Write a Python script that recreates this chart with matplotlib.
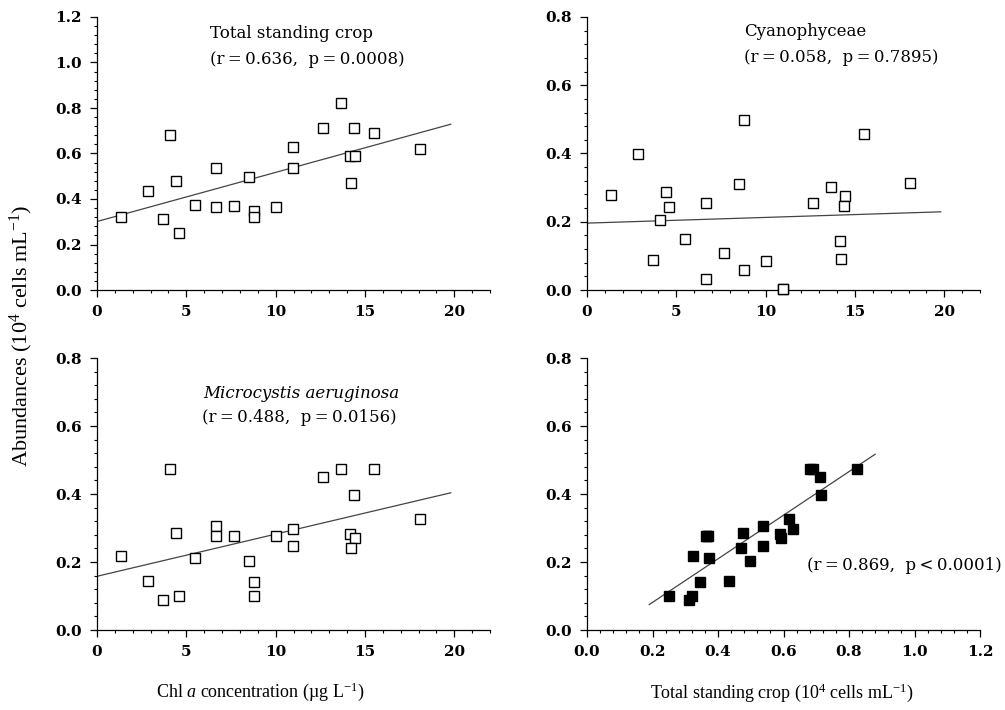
import matplotlib
matplotlib.use('Agg')
import matplotlib.pyplot as plt
import numpy as np
from matplotlib.ticker import MultipleLocator, FormatStrFormatter
from matplotlib.font_manager import FontProperties

plt.rcParams['mathtext.fontset'] = 'custom'
plt.rcParams['mathtext.rm'] = 'Liberation Serif'
plt.rcParams['mathtext.it'] = 'Liberation Serif:italic'

# chl a concentration of each sample (ug/L)
chl = [1.35, 2.85, 3.67, 4.08, 4.44, 4.61, 5.51, 6.67, 6.67, 7.68, 8.52, 8.80,
       8.80, 10.0, 10.96, 10.96, 12.66, 13.67, 14.19, 14.42, 14.23, 14.40, 15.52, 18.07]
# abundances (10^4 cells/mL)
total = [0.323, 0.433, 0.311, 0.682, 0.477, 0.249, 0.373, 0.538, 0.364, 0.370, 0.497, 0.346,
         0.321, 0.365, 0.629, 0.538, 0.711, 0.824, 0.590, 0.591, 0.469, 0.713, 0.689, 0.618]
cyano = [0.277, 0.399, 0.089, 0.206, 0.288, 0.244, 0.149, 0.033, 0.254, 0.108, 0.310, 0.060,
         0.497, 0.086, 0.004, 0.004, 0.256, 0.301, 0.145, 0.275, 0.091, 0.247, 0.456, 0.314]
micro = [0.218, 0.145, 0.087, 0.475, 0.286, 0.099, 0.212, 0.305, 0.276, 0.276, 0.204, 0.141,
         0.101, 0.276, 0.296, 0.248, 0.451, 0.475, 0.281, 0.272, 0.241, 0.397, 0.475, 0.327]

# regression lines as drawn (intercept, slope, x range)
fit_total = (0.301, 0.0216, 0, 19.8)
fit_cyano = (0.196, 0.00167, 0, 19.8)
fit_micro = (0.158, 0.0124, 0, 19.8)
fit_tm = (-0.047, 0.641, 0.19, 0.88)

tick_fp = FontProperties(family='DejaVu Serif', weight='bold', size=11)
note_font = dict(family='DejaVu Serif', size=12)
T = '\u2009'  # thin space

fig = plt.figure(figsize=(10.05, 7.10), dpi=100)
W, H = 1005.0, 710.0

def make_ax(l, t, r, b):
    return fig.add_axes([l / W, 1 - b / H, (r - l) / W, (b - t) / H])

def style(ax, xmax, xmaj, xmin, ymax, xfmt):
    ax.set_xlim(0, xmax)
    ax.set_ylim(0, ymax)
    ax.spines['top'].set_visible(False)
    ax.spines['right'].set_visible(False)
    for s in ['left', 'bottom']:
        ax.spines[s].set_linewidth(0.9)
    ax.xaxis.set_major_locator(MultipleLocator(xmaj))
    ax.xaxis.set_minor_locator(MultipleLocator(xmin))
    ax.yaxis.set_major_locator(MultipleLocator(0.2))
    ax.yaxis.set_minor_locator(MultipleLocator(0.04))
    ax.xaxis.set_major_formatter(FormatStrFormatter(xfmt))
    ax.yaxis.set_major_formatter(FormatStrFormatter('%.1f'))
    ax.tick_params(which='major', direction='out', length=5, width=0.9, pad=6)
    ax.tick_params(which='minor', direction='out', length=2.5, width=0.8)
    for lab in ax.get_xticklabels() + ax.get_yticklabels():
        lab.set_fontproperties(tick_fp)

def fit_line(ax, fit):
    b0, b1, x0, x1 = fit
    xs = np.array([x0, x1])
    ax.plot(xs, b0 + b1 * xs, color='#444444', lw=0.9, zorder=1)

ax1 = make_ax(97, 17, 490, 290)
ax2 = make_ax(587, 17, 980, 290)
ax3 = make_ax(97, 358, 490, 630)
ax4 = make_ax(587, 358, 980, 630)

open_sq = dict(marker='s', ms=6.8, mfc='white', mec='black', mew=1.0, ls='none', zorder=3, clip_on=False)

ax1.plot(chl, total, **open_sq)
fit_line(ax1, fit_total)
style(ax1, 22, 5, 1, 1.2, '%d')

ax2.plot(chl, cyano, **open_sq)
fit_line(ax2, fit_cyano)
style(ax2, 22, 5, 1, 0.8, '%d')

ax3.plot(chl, micro, **open_sq)
fit_line(ax3, fit_micro)
style(ax3, 22, 5, 1, 0.8, '%d')

ax4.plot(total, micro, marker='s', ms=7, mfc='black', mec='black', ls='none', zorder=3)
fit_line(ax4, fit_tm)
style(ax4, 1.2, 0.2, 0.04, 0.8, '%.1f')

def stat(r, op, p):
    return '(r' + T + '=' + T + r + ',  p' + T + op + T + p + ')'

# panel notes
fig.text(210 / W, 1 - 33 / H, 'Total standing crop', va='center', ha='left', **note_font)
fig.text(210 / W, 1 - 59 / H, stat('0.636', '=', '0.0008'), va='center', ha='left', **note_font)
fig.text(744 / W, 1 - 32 / H, 'Cyanophyceae', va='center', ha='left', **note_font)
fig.text(744 / W, 1 - 57 / H, stat('0.058', '=', '0.7895'), va='center', ha='left', **note_font)
fig.text(203 / W, 1 - 393 / H, 'Microcystis aeruginosa', va='center', ha='left', style='italic', **note_font)
fig.text(202 / W, 1 - 418 / H, stat('0.488', '=', '0.0156'), va='center', ha='left', **note_font)
fig.text(807 / W, 1 - 566 / H, stat('0.869', '<', '0.0001'), va='center', ha='left', **note_font)

# axis labels
fig.text(21 / W, 1 - 336 / H, r'Abundances (10$^4$ cells mL$^{-1}$)', rotation=90,
         va='center', ha='center', family='Liberation Serif', size=16)
fig.text(260 / W, 1 - 692 / H, 'Chl $\\mathit{a}$ concentration (\u00b5g L$^{-1}$)',
         va='center', ha='center', family='Liberation Serif', size=13)
fig.text(782 / W, 1 - 693 / H, r'Total standing crop (10$^4$ cells mL$^{-1}$)',
         va='center', ha='center', family='Liberation Serif', size=13)

fig.savefig('out.png', dpi=100)
